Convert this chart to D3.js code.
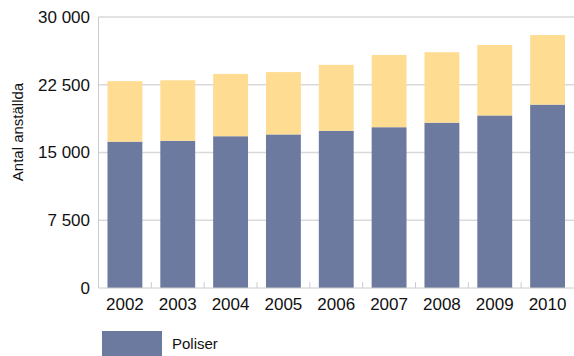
<!DOCTYPE html>
<html>
<head>
<meta charset="utf-8">
<script src="https://cdn.jsdelivr.net/npm/d3@7"></script>
<style>
  html, body { margin: 0; padding: 0; background: #fff; }
  svg { display: block; font-family: "Liberation Sans", Arial, sans-serif; }
</style>
</head>
<body>
<svg id="chart" width="574" height="356"></svg>
<script>
const years = ["2002","2003","2004","2005","2006","2007","2008","2009","2010"];
const poliser = [16200, 16300, 16800, 17000, 17400, 17800, 18300, 19100, 20300];
const civila  = [6700, 6700, 6900, 6900, 7300, 8000, 7800, 7800, 7700];
const yTicks = [0, 7500, 15000, 22500, 30000];
const seriesNames = ["Poliser", "Civilanställda"];
const colors = ["#6b7a9e", "#fedc91"];

const svg = d3.select("#chart");
const mLeft = 98.5, mRight = 574, mTop = 17, mBottom = 288;

const x = d3.scaleBand().domain(years).range([mLeft, mRight]).paddingInner(0.34).paddingOuter(0.17);
const y = d3.scaleLinear().domain([0, 30000]).range([mBottom, mTop]);

const fmt = v => d3.format(",")(v).replace(/,/g, " ");

// gridlines
svg.append("g").selectAll("line").data(yTicks.filter(d => d > 0)).join("line")
  .attr("x1", mLeft).attr("x2", mRight)
  .attr("y1", d => y(d)).attr("y2", d => y(d))
  .attr("stroke", "#d9d9d9").attr("stroke-width", 1.5);

// stacked data
const rows = years.map((yr, i) => ({ year: yr, Poliser: poliser[i], "Civilanställda": civila[i] }));
const stack = d3.stack().keys(seriesNames)(rows);

svg.append("g").selectAll("g").data(stack).join("g")
  .attr("fill", (d, i) => colors[i])
  .selectAll("rect").data(d => d).join("rect")
  .attr("x", d => x(d.data.year))
  .attr("width", x.bandwidth())
  .attr("y", d => y(d[1]))
  .attr("height", d => y(d[0]) - y(d[1]));

// axes lines
svg.append("line").attr("x1", mLeft).attr("x2", mLeft).attr("y1", mTop).attr("y2", mBottom)
  .attr("stroke", "#cccccc").attr("stroke-width", 1);
svg.append("line").attr("x1", mLeft).attr("x2", mRight).attr("y1", mBottom).attr("y2", mBottom)
  .attr("stroke", "#cccccc").attr("stroke-width", 1);

// bottom ticks between bars (upward)
const step = x.step();
const boundaries = years.slice(1).map(yr => x(yr) - (step - x.bandwidth()) / 2);
svg.append("g").selectAll("line").data(boundaries).join("line")
  .attr("x1", d => d).attr("x2", d => d)
  .attr("y1", mBottom - 6).attr("y2", mBottom)
  .attr("stroke", "#cccccc").attr("stroke-width", 1);

// y tick labels
svg.append("g").selectAll("text").data(yTicks).join("text")
  .attr("x", 90).attr("y", d => y(d)).attr("dy", "0.35em")
  .attr("text-anchor", "end").attr("font-size", 17).attr("fill", "#111")
  .text(fmt);

// x labels
svg.append("g").selectAll("text").data(years).join("text")
  .attr("x", d => x(d) + x.bandwidth() / 2).attr("y", 310)
  .attr("text-anchor", "middle").attr("font-size", 17).attr("fill", "#111")
  .text(d => d);

// y axis title
svg.append("text")
  .attr("transform", "translate(23,132) rotate(-90)")
  .attr("text-anchor", "middle").attr("font-size", 15).attr("fill", "#111")
  .text("Antal anställda");

// legend
svg.append("rect").attr("x", 102).attr("y", 331).attr("width", 60).attr("height", 30).attr("fill", colors[0]);
svg.append("text").attr("x", 172).attr("y", 349).attr("font-size", 15).attr("fill", "#111").text(seriesNames[0]);
</script>
</body>
</html>
